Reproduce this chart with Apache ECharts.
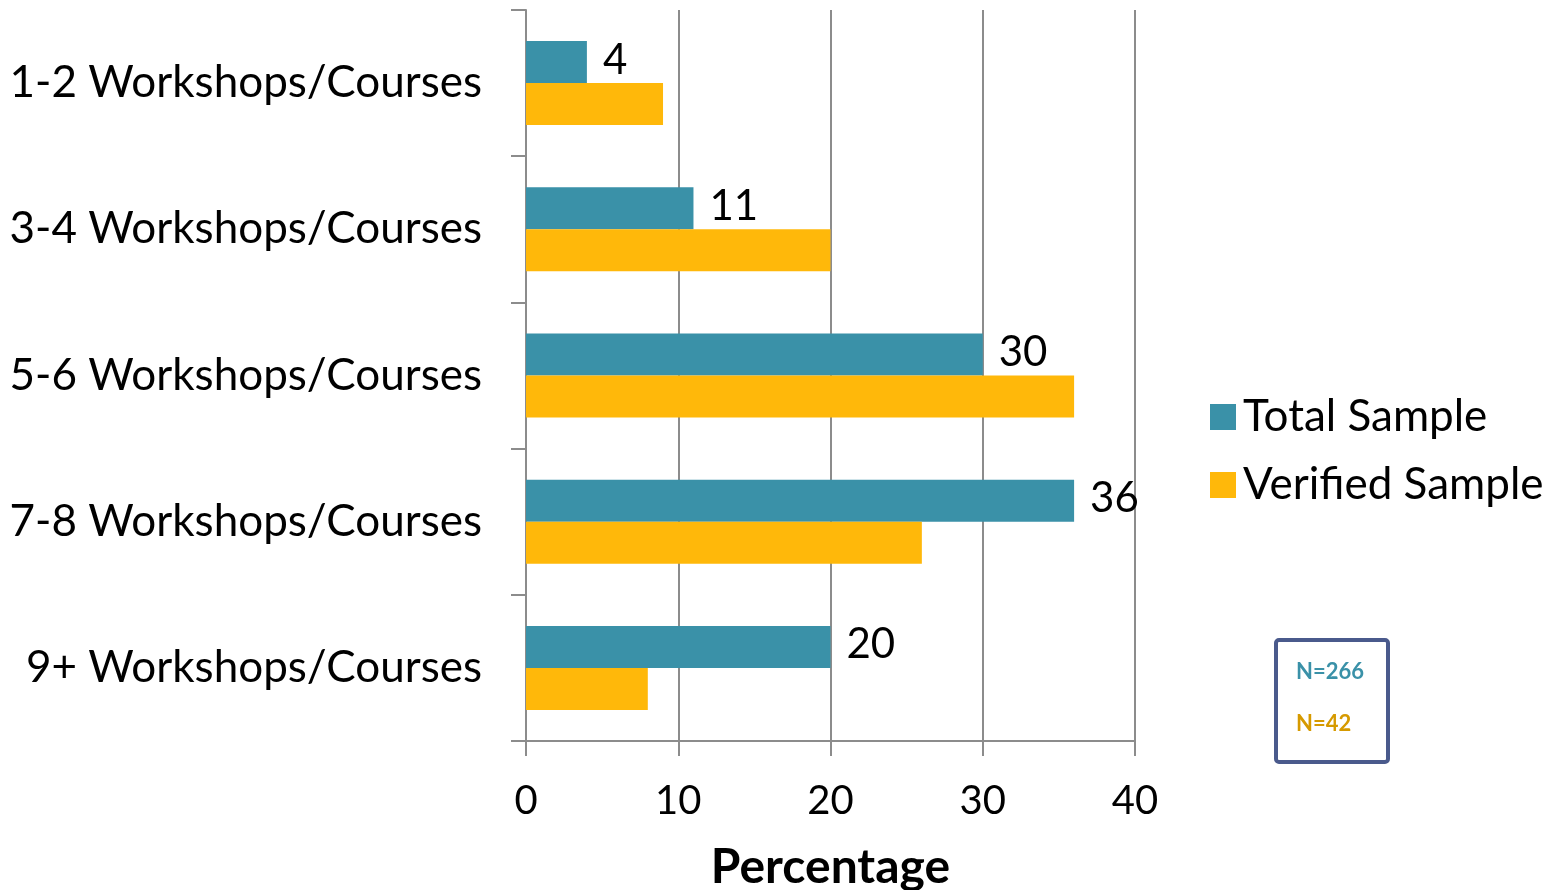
<!DOCTYPE html>
<html>
<head>
<meta charset="utf-8">
<script src="https://cdn.jsdelivr.net/npm/echarts@6/dist/echarts.min.js"></script>
<style>
  html, body { margin: 0; padding: 0; background: #fff; }
  #chart { width: 1556px; height: 890px; }
</style>
</head>
<body>
<div id="chart"></div>
<script>
const categories = ['1-2 Workshops/Courses', '3-4 Workshops/Courses', '5-6 Workshops/Courses', '7-8 Workshops/Courses', '9+ Workshops/Courses'];
const totalSample = [4, 11, 30, 36, 20];
const verifiedSample = [9, 20, 36, 26, 8];
const xTicks = [0, 10, 20, 30, 40];

const font = 'Lato, "Open Sans", sans-serif';
const teal = '#3A91A8';
const orange = '#FFB80A';
const axisGray = '#8c8c8c';

const chart = echarts.init(document.getElementById('chart'));

chart.setOption({
  animation: false,
  textStyle: { fontFamily: font },
  grid: { left: 526, right: 421, top: 10, bottom: 149, containLabel: false, outerBoundsMode: 'none' },
  legend: {
    orient: 'vertical',
    left: 1205,
    top: 390,
    itemWidth: 26,
    itemHeight: 26,
    itemGap: 24,
    icon: 'rect',
    textStyle: { fontFamily: font, fontSize: 44, color: '#000', padding: [0, 0, 0, 2] },
    data: ['Total Sample', 'Verified Sample']
  },
  xAxis: {
    type: 'value',
    min: xTicks[0],
    max: xTicks[xTicks.length - 1],
    interval: 10,
    name: 'Percentage',
    nameLocation: 'middle',
    nameGap: 103,
    nameTextStyle: { fontFamily: font, fontSize: 48, fontWeight: 'bold', color: '#000' },
    axisLine: { show: true, lineStyle: { color: axisGray, width: 2 } },
    axisTick: { show: true, length: 15, lineStyle: { color: axisGray, width: 2 } },
    axisLabel: { fontFamily: font, fontSize: 40, color: '#000', margin: 40 },
    splitLine: { show: true, lineStyle: { color: axisGray, width: 2 } }
  },
  yAxis: {
    type: 'category',
    inverse: true,
    data: categories,
    axisLine: { show: true, lineStyle: { color: axisGray, width: 2 } },
    axisTick: { show: true, length: 15, lineStyle: { color: axisGray, width: 2 } },
    axisLabel: { fontFamily: font, fontSize: 44, color: '#000', margin: 44 }
  },
  series: [
    {
      name: 'Total Sample',
      type: 'bar',
      data: totalSample,
      itemStyle: { color: teal },
      barWidth: 42,
      barGap: '0%',
      label: {
        show: true,
        position: 'right',
        distance: 16,
        fontFamily: font,
        fontSize: 42,
        color: '#000',
        offset: [0, -2]
      }
    },
    {
      name: 'Verified Sample',
      type: 'bar',
      data: verifiedSample,
      itemStyle: { color: orange },
      barWidth: 42,
      barGap: '0%'
    }
  ],
  graphic: [
    {
      type: 'rect',
      left: 1274,
      top: 638,
      shape: { width: 112, height: 122, r: 3 },
      style: { fill: '#fff', stroke: '#4A5A8C', lineWidth: 4 }
    },
    {
      type: 'text',
      left: 1296,
      top: 661,
      style: { text: 'N=266', fill: teal, fontFamily: font, fontSize: 22, fontWeight: 'bold' }
    },
    {
      type: 'text',
      left: 1296,
      top: 713,
      style: { text: 'N=42', fill: '#D69A00', fontFamily: font, fontSize: 22, fontWeight: 'bold' }
    }
  ]
});
</script>
</body>
</html>
